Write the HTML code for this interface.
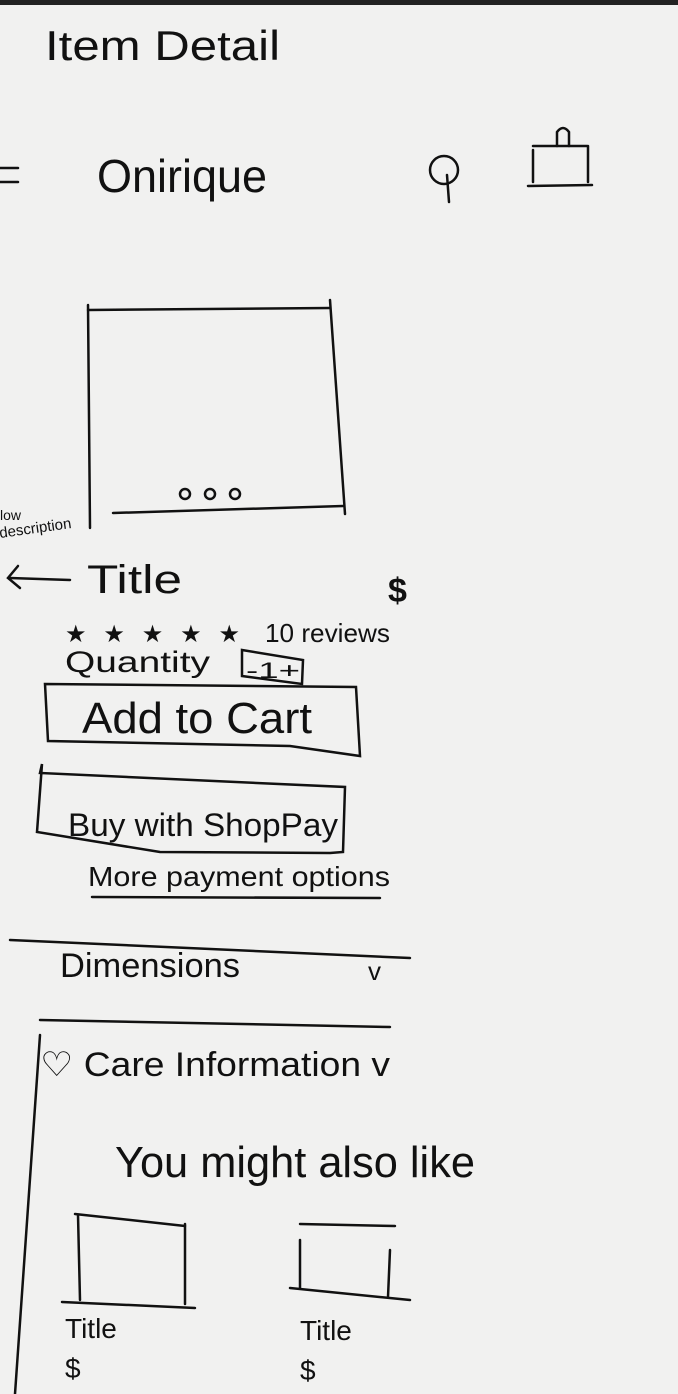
<!DOCTYPE html>
<html><head><meta charset="utf-8"><style>
html,body{margin:0;padding:0;background:#f1f1f0;}
svg{display:block}
text{font-family:"Liberation Sans",sans-serif;fill:#111;}
</style></head><body>
<svg width="678" height="1394" viewBox="0 0 678 1394" xmlns="http://www.w3.org/2000/svg">
<rect x="0" y="0" width="678" height="1394" fill="#f1f1f0"/>
<rect x="0" y="0" width="678" height="5" fill="#222"/>
<g stroke="#111" stroke-width="2.5" fill="none" stroke-linecap="round">
<line x1="0" y1="168" x2="18" y2="168"/><line x1="0" y1="182" x2="18" y2="182"/>
<circle cx="444" cy="170" r="14"/><line x1="447" y1="175" x2="449" y2="202"/>
<line x1="533" y1="150" x2="533" y2="182"/><line x1="533" y1="146" x2="587" y2="146"/>
<line x1="588" y1="146" x2="588" y2="182"/><line x1="528" y1="186" x2="592" y2="185"/>
<path d="M557 146 V132 Q563 124 569 132 V146"/>
<line x1="88" y1="310" x2="330" y2="308"/>
<line x1="88" y1="305" x2="90" y2="528"/>
<line x1="330" y1="300" x2="345" y2="514"/>
<line x1="113" y1="513" x2="343" y2="506"/>
<circle cx="185" cy="494" r="5"/><circle cx="210" cy="494" r="5"/><circle cx="235" cy="494" r="5"/>
<line x1="10" y1="578" x2="70" y2="580"/><path d="M18 566 L8 578 L20 588"/>
<path d="M242 650 L303 660 L302 684 L242 676 Z"/>
<path d="M45 684 L356 687 L360 756 L290 746 L48 741 Z"/>
<path d="M42 764 L40 773 L345 787 L343 852 L330 853 L160 852 L37 832 Z"/>
<line x1="92" y1="897" x2="380" y2="898"/>
<line x1="10" y1="940" x2="410" y2="958"/>
<line x1="40" y1="1020" x2="390" y2="1027"/>
<line x1="40" y1="1035" x2="15" y2="1394"/>
<line x1="75" y1="1214" x2="185" y2="1226"/><line x1="78" y1="1215" x2="80" y2="1300"/>
<line x1="185" y1="1224" x2="185" y2="1304"/><line x1="62" y1="1302" x2="195" y2="1308"/>
<line x1="300" y1="1224" x2="395" y2="1226"/><line x1="300" y1="1240" x2="300" y2="1288"/>
<line x1="390" y1="1250" x2="388" y2="1297"/><line x1="290" y1="1288" x2="410" y2="1300"/>
</g>
<text x="45" y="60" font-size="42" textLength="235" lengthAdjust="spacingAndGlyphs">Item Detail</text>
<text x="97" y="192" font-size="46" textLength="170" lengthAdjust="spacingAndGlyphs">Onirique</text>
<text x="0" y="520" font-size="14">low</text>
<text x="0" y="538" font-size="15" transform="rotate(-8 0 538)">description</text>
<text x="87" y="593" font-size="40" textLength="95" lengthAdjust="spacingAndGlyphs">Title</text>
<text x="388" y="602" font-size="34" font-weight="bold">$</text>
<text x="65" y="642" font-size="24" textLength="175" lengthAdjust="spacing">★★★★★</text>
<text x="265" y="642" font-size="26" textLength="125" lengthAdjust="spacingAndGlyphs">10 reviews</text>
<text x="65" y="672" font-size="30" textLength="145" lengthAdjust="spacingAndGlyphs">Quantity</text>
<text x="246" y="678" font-size="22" textLength="54" lengthAdjust="spacingAndGlyphs">-1+</text>
<text x="82" y="733" font-size="44" textLength="230" lengthAdjust="spacingAndGlyphs">Add to Cart</text>
<text x="68" y="836" font-size="32" textLength="270" lengthAdjust="spacingAndGlyphs">Buy with ShopPay</text>
<text x="88" y="886" font-size="28" textLength="302" lengthAdjust="spacingAndGlyphs">More payment options</text>
<text x="60" y="977" font-size="34" textLength="180" lengthAdjust="spacingAndGlyphs">Dimensions</text>
<text x="368" y="980" font-size="26">v</text>
<text x="40" y="1076" font-size="34" textLength="350" lengthAdjust="spacingAndGlyphs">♡ Care Information v</text>
<text x="115" y="1177" font-size="44" textLength="360" lengthAdjust="spacingAndGlyphs">You might also like</text>
<text x="65" y="1338" font-size="28">Title</text>
<text x="65" y="1378" font-size="28">$</text>
<text x="300" y="1340" font-size="28">Title</text>
<text x="300" y="1380" font-size="28">$</text>
</svg>
</body></html>
